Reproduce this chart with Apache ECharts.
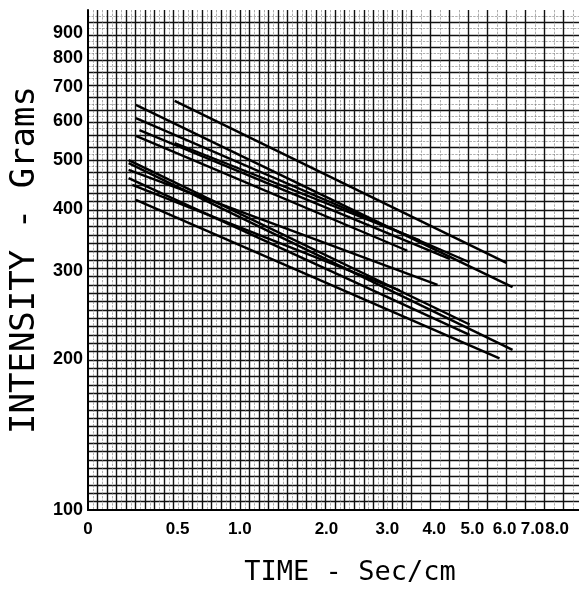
<!DOCTYPE html>
<html><head><meta charset="utf-8">
<script src="https://cdn.jsdelivr.net/npm/echarts@6/dist/echarts.min.js"></script>
<style>html,body{margin:0;padding:0;background:#fff}#c{width:579px;height:593px}</style>
</head><body><div id="c"></div>
<script>
// ---- data (time in sec/cm, intensity in grams) ----
const xTickValues = [0, 0.5, 1, 2, 3, 4, 5, 6, 7, 8];
const xTickLabels = ['0', '0.5', '1.0', '2.0', '3.0', '4.0', '5.0', '6.0', '7.0', '8.0'];
const yTickValues = [100, 200, 300, 400, 500, 600, 700, 800, 900];
// each line: start time, start intensity, end time, end intensity
const startTime      = [0.48, 0.24, 0.24, 0.26, 0.48, 0.24, 0.20, 0.20, 0.20, 0.20, 0.22, 0.24];
const startIntensity = [658,  646,  608,  575,  542,  560,  501,  494,  479,  461,  447,  417];
const endTime        = [6.06, 6.27, 4.92, 4.38, 3.67, 3.40, 4.92, 6.27, 4.08, 4.92, 3.24, 5.83];
const endIntensity   = [312,  279,  313,  318,  346,  330,  235,  209,  282,  224,  275,  201];

// time axis of the paper: logarithmic in (t + 0.92)
const T0 = 0.92;
function xScale(t) { return Math.log10((t + T0) / T0); }
const X_MAX_T = 9.0;
const uMax = xScale(X_MAX_T);

// grid (paper) lines, in axis units
const gridXBold = [], gridXThin = [];
for (let u = 0.02; u < 0.68; u += 0.02) gridXBold.push(u);
for (let u = 0.68; u < uMax; u += 0.04) { gridXBold.push(u); gridXThin.push(u + 0.02); }
for (let u = 0.01; u < 0.68; u += 0.02) gridXThin.push(u);
const gridYBold = [], gridYThin = [];
for (let k = 1; k < 60 * 0.65; k++) gridYBold.push(100 * Math.pow(10, k / 60));
for (let k = 26; k < 40; k++) gridYBold.push(100 * Math.pow(10, k / 40));
for (let k = 26; k < 40; k++) gridYThin.push(100 * Math.pow(10, (k + 0.5) / 40));

const series = startTime.map((t0, i) => ({
  type: 'line', xAxisIndex: 0, yAxisIndex: 0, symbol: 'none', silent: true,
  lineStyle: { color: '#000', width: 2.4 },
  data: [[xScale(t0), startIntensity[i]], [xScale(endTime[i]), endIntensity[i]]],
  z: 10
}));

function gridXAxis(values, color, width, type) {
  return { type: 'value', min: 0, max: uMax, position: 'bottom',
    axisLine: { show: false }, axisLabel: { show: false },
    axisTick: { show: false, customValues: values },
    splitLine: { show: true, lineStyle: { color: color, width: width, type: type } } };
}
function gridYAxis(values, color, width, type) {
  return { type: 'log', logBase: 10, min: 100, max: 1000, position: 'left',
    axisLine: { show: false }, axisLabel: { show: false },
    axisTick: { show: false, customValues: values },
    splitLine: { show: true, lineStyle: { color: color, width: width, type: type } } };
}

const chart = echarts.init(document.getElementById('c'), null, { renderer: 'canvas' });
chart.setOption({
  animation: false,
  backgroundColor: '#fff',
  grid: { left: 88, top: 10, right: 0, bottom: 83, containLabel: false, outerBoundsMode: 'none' },
  xAxis: [
    { type: 'value', min: 0, max: uMax, position: 'bottom',
      name: 'TIME - Sec/cm', nameLocation: 'middle', nameGap: 49,
      nameTextStyle: { fontFamily: 'DejaVu Sans Mono', fontSize: 27, color: '#000', fontWeight: 'normal', padding: [0, 0, 0, 33] },
      axisLine: { show: true, lineStyle: { color: '#000', width: 2 } },
      axisTick: { show: false, customValues: xTickValues.map(xScale) },
      axisLabel: { show: true, customValues: xTickValues.map(xScale), margin: 11,
        fontFamily: 'Liberation Sans', fontWeight: 'bold', fontSize: 17, color: '#000',
        formatter: v => { let best = 0; xTickValues.forEach((t, i) => { if (Math.abs(xScale(t) - v) < Math.abs(xScale(xTickValues[best]) - v)) best = i; }); return xTickLabels[best]; } },
      splitLine: { show: false } },
    gridXAxis(gridXThin, '#777', 0.6, 'dashed'),
    gridXAxis(gridXBold, '#111', 1.4, 'solid')
  ],
  yAxis: [
    { type: 'log', logBase: 10, min: 100, max: 1000, position: 'left',
      name: 'INTENSITY - Grams', nameLocation: 'middle', nameGap: 46, nameRotate: 90,
      nameTextStyle: { fontFamily: 'DejaVu Sans Mono', fontSize: 34, color: '#000', padding: [0, 0, 0, 0] },
      axisLine: { show: true, lineStyle: { color: '#000', width: 2 } },
      axisTick: { show: false, customValues: yTickValues },
      axisLabel: { show: true, customValues: yTickValues, margin: 5,
        fontFamily: 'Liberation Sans', fontWeight: 'bold', fontSize: 18, color: '#000',
        formatter: v => String(Math.round(v)) },
      splitLine: { show: false } },
    gridYAxis(gridYThin, '#777', 0.6, 'dashed'),
    gridYAxis(gridYBold, '#111', 1.4, 'solid')
  ],
  series: series
});
</script></body></html>
